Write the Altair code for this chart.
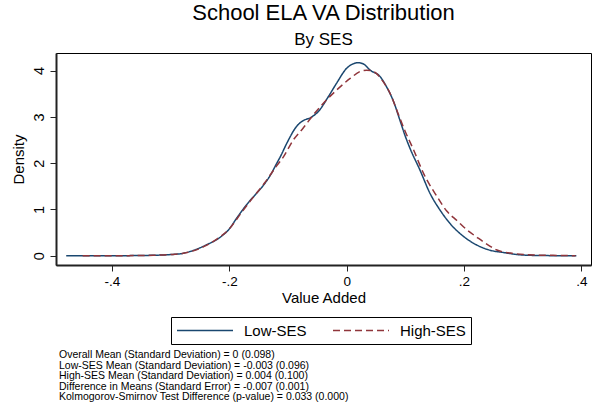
import altair as alt
import pandas as pd

FONT = "Liberation Sans, Arial, Helvetica, sans-serif"

# ---- data ----
groups = ["Low-SES", "High-SES"]
colors = ["#1a476f", "#90353b"]

low_x = [-0.478, -0.40, -0.36, -0.33, -0.30, -0.28, -0.26, -0.24, -0.2155, -0.20,
         -0.187, -0.17, -0.155, -0.142, -0.13, -0.119, -0.113, -0.102, -0.085, -0.074,
         -0.062, -0.048, -0.031, -0.017, 0.0, 0.010, 0.020, 0.029, 0.040, 0.057,
         0.068, 0.080, 0.091, 0.100, 0.108, 0.125, 0.142, 0.159, 0.176, 0.199,
         0.222, 0.244, 0.267, 0.301, 0.34, 0.3915]
low_y = [0.0, 0.0, 0.004, 0.01, 0.025, 0.05, 0.12, 0.23, 0.40, 0.58,
         0.82, 1.11, 1.33, 1.52, 1.74, 2.0, 2.14, 2.43, 2.80, 2.92,
         2.98, 3.12, 3.44, 3.73, 4.05, 4.14, 4.17, 4.14, 4.01, 3.87,
         3.65, 3.33, 2.92, 2.58, 2.32, 1.85, 1.35, 0.99, 0.70, 0.42,
         0.23, 0.12, 0.07, 0.015, 0.003, 0.0]

high_x = [-0.45, -0.40, -0.36, -0.33, -0.30, -0.28, -0.26, -0.24, -0.22, -0.20,
          -0.18, -0.16, -0.14, -0.12, -0.108, -0.091, -0.074, -0.057, -0.040, -0.017,
          0.006, 0.023, 0.034, 0.046, 0.060, 0.074, 0.088, 0.100, 0.114, 0.131,
          0.154, 0.171, 0.188, 0.205, 0.222, 0.233, 0.244, 0.255, 0.284, 0.323,
          0.352, 0.39]
high_y = [0.0, 0.0, 0.004, 0.01, 0.025, 0.05, 0.11, 0.22, 0.37, 0.58,
          0.92, 1.25, 1.57, 1.93, 2.13, 2.50, 2.76, 3.04, 3.29, 3.58,
          3.83, 3.98, 4.01, 3.98, 3.80, 3.51, 3.06, 2.68, 2.29, 1.78,
          1.28, 0.96, 0.76, 0.56, 0.40, 0.30, 0.21, 0.13, 0.05, 0.015,
          0.008, 0.0]

x_ticks = [-0.4, -0.2, 0, 0.2, 0.4]
x_tick_labels = ["-.4", "-.2", "0", ".2", ".4"]
y_ticks = [0, 1, 2, 3, 4]

title_text = "School ELA VA Distribution"
subtitle_text = "By SES"
x_title = "Value Added"
y_title = "Density"

notes = [
    "Overall Mean (Standard Deviation) = 0 (0.098)",
    "Low-SES Mean (Standard Deviation) = -0.003 (0.096)",
    "High-SES Mean (Standard Deviation) = 0.004 (0.100)",
    "Difference in Means (Standard Error) = -0.007 (0.001)",
    "Kolmogorov-Smirnov Test Difference (p-value) = 0.033 (0.000)",
]

# ---- build tables ----
df = pd.concat([
    pd.DataFrame({"x": low_x, "density": low_y, "group": groups[0], "i": range(len(low_x))}),
    pd.DataFrame({"x": high_x, "density": high_y, "group": groups[1], "i": range(len(high_x))}),
], ignore_index=True)

notes_df = pd.DataFrame({"note": notes, "line": range(len(notes))})

label_expr = "''"
for v, lab in reversed(list(zip(x_ticks, x_tick_labels))):
    label_expr = f"abs(datum.value - ({v})) < 1e-9 ? '{lab}' : ({label_expr})"

lines = alt.Chart(df).mark_line(strokeWidth=1.5, interpolate="monotone", clip=True).encode(
    x=alt.X("x:Q",
            scale=alt.Scale(domain=[-0.4954, 0.4165], nice=False, zero=False),
            axis=alt.Axis(values=x_ticks, labelExpr=label_expr, title=x_title,
                          labelPadding=14.5, labelBaseline="alphabetic",
                          titleBaseline="alphabetic", titleY=37.5)),
    y=alt.Y("density:Q",
            scale=alt.Scale(domain=[-0.2, 4.38], nice=False, zero=False),
            axis=alt.Axis(values=y_ticks, title=y_title, labelAngle=270,
                          labelAlign="center", labelBaseline="alphabetic",
                          labelPadding=7, labelFontSize=14.5, titleAngle=270,
                          titleBaseline="alphabetic", titleAlign="center",
                          titleX=-32.5, titleY=106)),
    color=alt.Color("group:N",
                    scale=alt.Scale(domain=groups, range=colors),
                    legend=alt.Legend(title=None)),
    strokeDash=alt.StrokeDash("group:N",
                              scale=alt.Scale(domain=groups, range=[[1, 0], [7, 4]]),
                              legend=alt.Legend(title=None)),
    order="i:Q",
)

# note lines stacked below the legend, one text per line
notes_layer = alt.Chart(notes_df).mark_text(
    align="left", baseline="alphabetic", fontSize=10.5,
    font=FONT, color="black",
).transform_calculate(
    ypix="305 + datum.line * 10.6"
).encode(
    x=alt.value(3),
    y=alt.Y("ypix:Q", scale=None),
    text="note:N",
)

chart = alt.layer(lines, notes_layer).properties(
    width=535,
    height=212,
    padding={"left": 56, "top": 53, "right": 2, "bottom": 155},
    autosize=alt.AutoSizeParams(type="none"),
    title=alt.TitleParams(
        text=title_text, subtitle=subtitle_text,
        font=FONT, subtitleFont=FONT,
        fontSize=22, subtitleFontSize=17,
        fontWeight="normal", color="black", subtitleColor="black",
        anchor="middle", frame="group", offset=4, subtitlePadding=7,
    ),
).configure(
    background="white",
    font=FONT,
).configure_view(
    stroke="black", strokeWidth=1,
).configure_axis(
    grid=False,
    domainColor="#222222", domainWidth=2,
    tickColor="#222222", tickWidth=1, tickSize=6,
    labelFont=FONT, labelFontSize=13.5, labelColor="black",
    titleFont=FONT, titleFontSize=15, titleFontWeight="normal", titleColor="black",
    labelFlush=False, labelOverlap=False,
).configure_legend(
    orient="none", legendX=115, legendY=264,
    direction="horizontal",
    strokeColor="black", padding=5,
    symbolType="stroke", symbolSize=3136, symbolStrokeWidth=1.5,
    clipHeight=17,
    labelFont=FONT, labelFontSize=15, labelColor="black",
    labelOffset=10, columnPadding=25,
)

chart.save("out.html", embed_options={"renderer": "svg", "actions": False})
